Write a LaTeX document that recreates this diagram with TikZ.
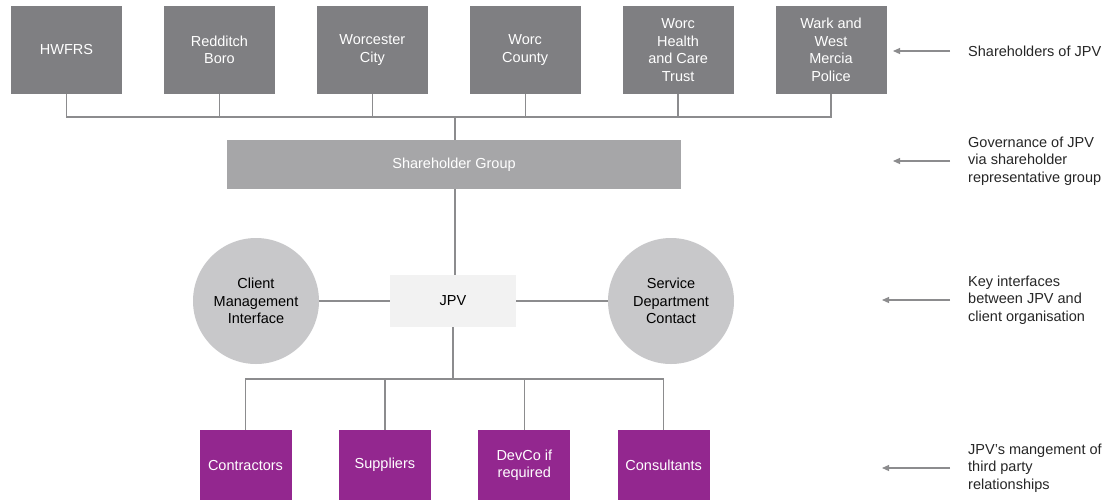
\documentclass[tikz,border=0pt]{standalone}
\usepackage{fontspec}
\setmainfont{Liberation Sans}
\usetikzlibrary{arrows.meta, positioning}
\definecolor{OwnerGrey}{HTML}{7F7F82}
\definecolor{GroupGrey}{HTML}{A6A6A8}
\definecolor{JpvGrey}{HTML}{F2F2F2}
\definecolor{RingGrey}{HTML}{C8C8CA}
\definecolor{LineGrey}{HTML}{8C8C8E}
\definecolor{tile3}{HTML}{93278F}
\tikzstyle{owner_box}=[rectangle,
        minimum width=111pt,
        minimum height=88pt,
        inner sep=0pt,
        align=center,
        fill=OwnerGrey,
        text=white, ]
\tikzstyle{party_box}=[rectangle,
        minimum width=92pt,
        minimum height=70pt,
        inner sep=0pt,
        align=center,
        fill=tile3,
        text=white, ]
\tikzstyle{contact_ring}=[circle,
        minimum size=126pt,
        inner sep=0pt,
        align=center,
        fill=RingGrey, ]
\tikzstyle{side_note}=[anchor=west, inner sep=0pt, align=left, text=black!85]
\tikzstyle{link}=[draw=LineGrey, line width=1.3pt]
\tikzstyle{pointer}=[draw=LineGrey, line width=1.2pt, shorten <=18pt,
        -{Triangle[length=7pt,width=6pt]}]

\begin{document}
\begin{tikzpicture}[x=1pt, y=-1pt,
    every node/.style={font=\fontsize{14.5}{17.5}\selectfont}]
    \useasboundingbox (0,0) rectangle (1109,499);

    % shareholders
    \node at (66.5,50) (hw) [owner_box] {HWFRS};
    \node [owner_box, right=41.5pt of hw] (rb) {Redditch\\Boro};
    \node [owner_box, right=41.5pt of rb] (wc) {Worcester\\City};
    \node [owner_box, right=41.5pt of wc] (wcty) {Worc\\County};
    \node [owner_box, right=41.5pt of wcty] (whct) {Worc\\Health\\and Care\\Trust};
    \node [owner_box, right=41.5pt of whct] (wark) {Wark and\\West\\Mercia\\Police};

    \node at (454,164.5) (sg) [rectangle, minimum width=454pt, minimum height=49pt,
        fill=GroupGrey, text=white] {Shareholder Group};

    \coordinate (owners_bus) at (455,117);
    \draw[link] (hw.south) -- (hw.south |- owners_bus) -- (wark.south |- owners_bus) -- (wark.south);
    \foreach \n in {rb,wc,wcty,whct} {
        \draw[link] (\n.south) -- (\n.south |- owners_bus);
    }
    \draw[link] (owners_bus) -- (owners_bus |- sg.north);

    % JPV and its interfaces
    \node at (453,301) (jpv) [rectangle, minimum width=126pt, minimum height=52pt,
        fill=JpvGrey] {JPV};
    \node at (256,301) (cmi) [contact_ring] {Client\\Management\\Interface};
    \node at (671,301) (sdc) [contact_ring] {Service\\Department\\Contact};

    \draw[link] (owners_bus |- sg.south) -- (owners_bus |- jpv.north);
    \draw[link] (cmi) -- (jpv);
    \draw[link] (jpv) -- (sdc);

    % third parties
    \node at (245.5,465) (con) [party_box] {Contractors};
    \node [party_box, right=47pt of con] (sup) {Suppliers};
    \node [party_box, right=47pt of sup] (dev) {DevCo if\\required};
    \node [party_box, right=47pt of dev] (cons) {Consultants};

    \coordinate (party_bus) at (453,379);
    \draw[link, line width=2pt] (jpv.south) -- (party_bus);
    \draw[link] (con.north) -- (con.north |- party_bus) -- (cons.north |- party_bus) -- (cons.north);
    \foreach \n in {sup,dev} {
        \draw[link] (\n.north) -- (\n.north |- party_bus);
    }

    % notes on the right
    \node at (968,51) (note1) [side_note] {Shareholders of JPV};
    \node at (968,161) (note2) [side_note] {Governance of JPV\\via shareholder\\representative group};
    \node at (968,300) (note3) [side_note] {Key interfaces\\between JPV and\\client organisation};
    \node at (968,468) (note4) [side_note] {JPV's mangement of\\third party\\relationships};

    \coordinate (tip_a) at (893,0);
    \coordinate (tip_b) at (882,0);
    \draw[pointer] (note1.west) -- (tip_a |- note1.west);
    \draw[pointer] (note2.west) -- (tip_a |- note2.west);
    \draw[pointer] (note3.west) -- (tip_b |- note3.west);
    \draw[pointer] (note4.west) -- (tip_b |- note4.west);

\end{tikzpicture}
\end{document}
